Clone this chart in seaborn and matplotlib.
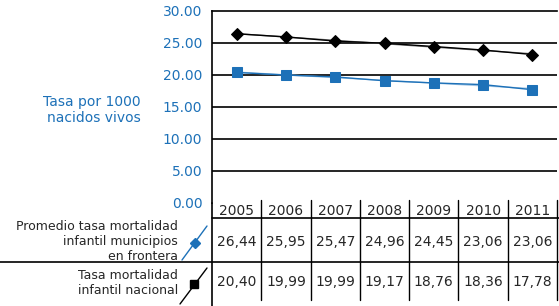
import numpy as np
import pandas as pd
import matplotlib
matplotlib.use("Agg")
import matplotlib.pyplot as plt
import seaborn as sns
from matplotlib.transforms import blended_transform_factory
from matplotlib.lines import Line2D

sns.set_style("white")
plt.rcParams['font.family'] = ['DejaVu Sans']

years = ["2005", "2006", "2007", "2008", "2009", "2010", "2011"]
frontera = [26.44, 25.95, 25.30, 24.96, 24.45, 23.90, 23.20]
nacional = [20.40, 19.99, 19.70, 19.10, 18.76, 18.50, 17.70]
frontera_txt = ["26,44", "25,95", "25,47", "24,96", "24,45", "23,06", "23,06"]
nacional_txt = ["20,40", "19,99", "19,99", "19,17", "18,76", "18,36", "17,78"]
yticks = [0, 5, 10, 15, 20, 25, 30]

BLUE = "#1d71b8"
W, H = 559, 306
fig = plt.figure(figsize=(W / 100, H / 100), dpi=100)

L, R, T, B = 212, 557, 11, 203
ax = fig.add_axes([L / W, 1 - B / H, (R - L) / W, (B - T) / H])

df = pd.DataFrame({"x": np.arange(len(years)), "front": frontera, "nac": nacional})

# trend lines
for col, c in [("front", "#777777"), ("nac", "#9fc3e3")]:
    p = np.polyfit(df["x"], df[col], 1)
    ax.plot(df["x"], np.polyval(p, df["x"]), color=c, lw=1.0, zorder=2)

sns.lineplot(data=df, x="x", y="front", ax=ax, color="black", lw=1.0,
             marker="D", markersize=6, markeredgecolor="black", zorder=3)
sns.lineplot(data=df, x="x", y="nac", ax=ax, color=BLUE, lw=1.0,
             marker="s", markersize=6.5, markeredgecolor=BLUE, zorder=3)

ax.set_xlim(-0.5, len(years) - 0.5)
ax.set_ylim(0, 30)
ax.set_yticks(yticks)
ax.set_yticklabels([f"{v:.2f}" for v in yticks], color=BLUE, fontsize=10)
ax.set_xticks([])
ax.set_xlabel("")
ax.set_ylabel("")
ax.tick_params(axis="y", length=0, pad=7)
for v in yticks[1:-1]:
    ax.axhline(v, color="black", lw=1.2, zorder=1)
for s in ["right", "bottom"]:
    ax.spines[s].set_visible(False)
for s in ["top", "left"]:
    ax.spines[s].set_color("black")
    ax.spines[s].set_linewidth(1.2)

fig.text(141 / W, 1 - 110 / H, "Tasa por 1000\nnacidos vivos", color=BLUE,
         fontsize=10, ha="right", va="center", multialignment="right")

# table overlay in pixel coordinates
ov = fig.add_axes([0, 0, 1, 1], facecolor="none")
ov.set_xlim(0, W)
ov.set_ylim(H, 0)
ov.axis("off")
tr = blended_transform_factory(ax.transData, ov.transData)

ov.plot([L, L], [B, H], color="black", lw=1.2)
ov.plot([L, W], [218, 218], color="black", lw=1.2)
ov.plot([0, W], [262, 262], color="black", lw=1.2)
for i in range(len(years)):
    xb = i + 0.5
    ov.plot([xb, xb], [200, 300], color="black", lw=1.0, transform=tr)
    ov.text(i, 211, years[i], transform=tr, ha="center", va="center", fontsize=10)
    ov.text(i, 242, frontera_txt[i], transform=tr, ha="center", va="center", fontsize=10)
    ov.text(i, 282, nacional_txt[i], transform=tr, ha="center", va="center", fontsize=10)

ov.text(178, 242, "Promedio tasa mortalidad\ninfantil municipios\nen frontera",
        ha="right", va="center", multialignment="right", fontsize=9)
ov.text(178, 283, "Tasa mortalidad\ninfantil nacional",
        ha="right", va="center", multialignment="right", fontsize=9)

ov.plot([182, 207], [260, 226], color=BLUE, lw=1.0)
ov.plot([195], [243], marker="D", color=BLUE, markersize=5)
ov.plot([180, 207], [304, 268], color="black", lw=1.0)
ov.plot([193.5], [284], marker="s", color="black", markersize=6)

fig.savefig("out.png", dpi=100)
